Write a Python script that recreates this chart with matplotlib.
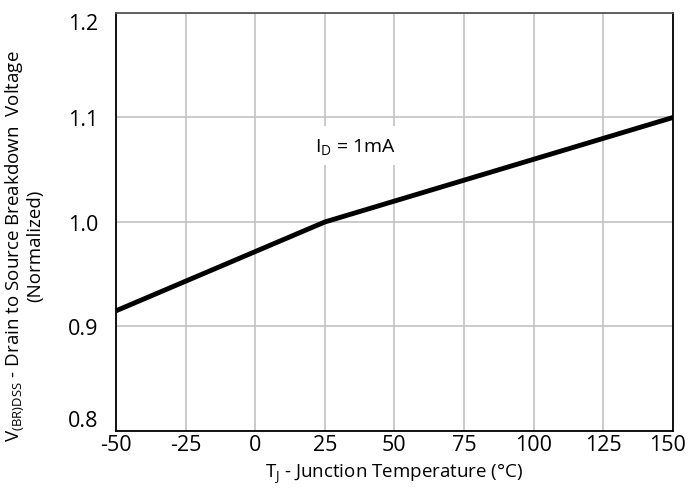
import numpy as np
from matplotlib import pyplot as plt
from matplotlib.transforms import ScaledTranslation

plt.rcParams['font.family'] = ['Open Sans', 'DejaVu Sans']
plt.rcParams['mathtext.fontset'] = 'custom'
plt.rcParams['mathtext.rm'] = 'Open Sans'
plt.rcParams['mathtext.it'] = 'Open Sans'
plt.rcParams['axes.unicode_minus'] = False

# Temperature (C) and normalized breakdown voltage
temps = [-50, 25, 150]
bvdss = [0.915, 1.0, 1.10]

xticks = [-50, -25, 0, 25, 50, 75, 100, 125, 150]
yticks = [0.8, 0.9, 1.0, 1.1, 1.2]

fig = plt.figure(figsize=(6.88, 4.89), dpi=100)
ax = fig.add_axes([0.1686, 0.1166, 0.8094, 0.8548])

ax.plot(temps, bvdss, color='black', lw=3.5, solid_capstyle='butt', zorder=3)

ax.set_xlim(-50, 150)
ax.set_ylim(0.8, 1.2)
ax.set_xticks(xticks)
ax.set_yticks(yticks)
ax.set_yticklabels(['{:.1f}'.format(v) for v in yticks])
ax.grid(True, color='#c2c2c2', lw=1.2)
ax.set_axisbelow(True)

ax.tick_params(axis='both', length=0, labelsize=15.5)
ax.tick_params(axis='x', pad=2)
ax.tick_params(axis='y', pad=13)

# end labels sit inside the axis range, like the datasheet
ylabels = ax.get_yticklabels()
ylabels[0].set_va('bottom')
ylabels[-1].set_va('top')
last = ax.get_xticklabels()[-1]
last.set_transform(last.get_transform() + ScaledTranslation(-4 / 72, 0, fig.dpi_scale_trans))

for side in ['left', 'bottom', 'right']:
    ax.spines[side].set_color('black')
    ax.spines[side].set_linewidth(1.3)
ax.spines['top'].set_color('#555555')
ax.spines['top'].set_linewidth(1.3)

ax.text(36, 1.073, r'I$_{\mathregular{D}}$ = 1mA', fontsize=14, ha='center', va='center',
        bbox=dict(facecolor='white', edgecolor='none', pad=7), zorder=2)

ax.set_xlabel(r'T$_{\mathregular{J}}$ - Junction Temperature (°C)', fontsize=13.5)
ax.xaxis.set_label_coords(0.5, -0.072)
ax.set_ylabel('V$_{\\mathregular{(BR)DSS}}$ - Drain to Source Breakdown  Voltage\n(Normalized)',
              fontsize=13.5, linespacing=1.05)
ax.yaxis.set_label_coords(-0.128, 0.445)

fig.savefig('out.png', dpi=100)
